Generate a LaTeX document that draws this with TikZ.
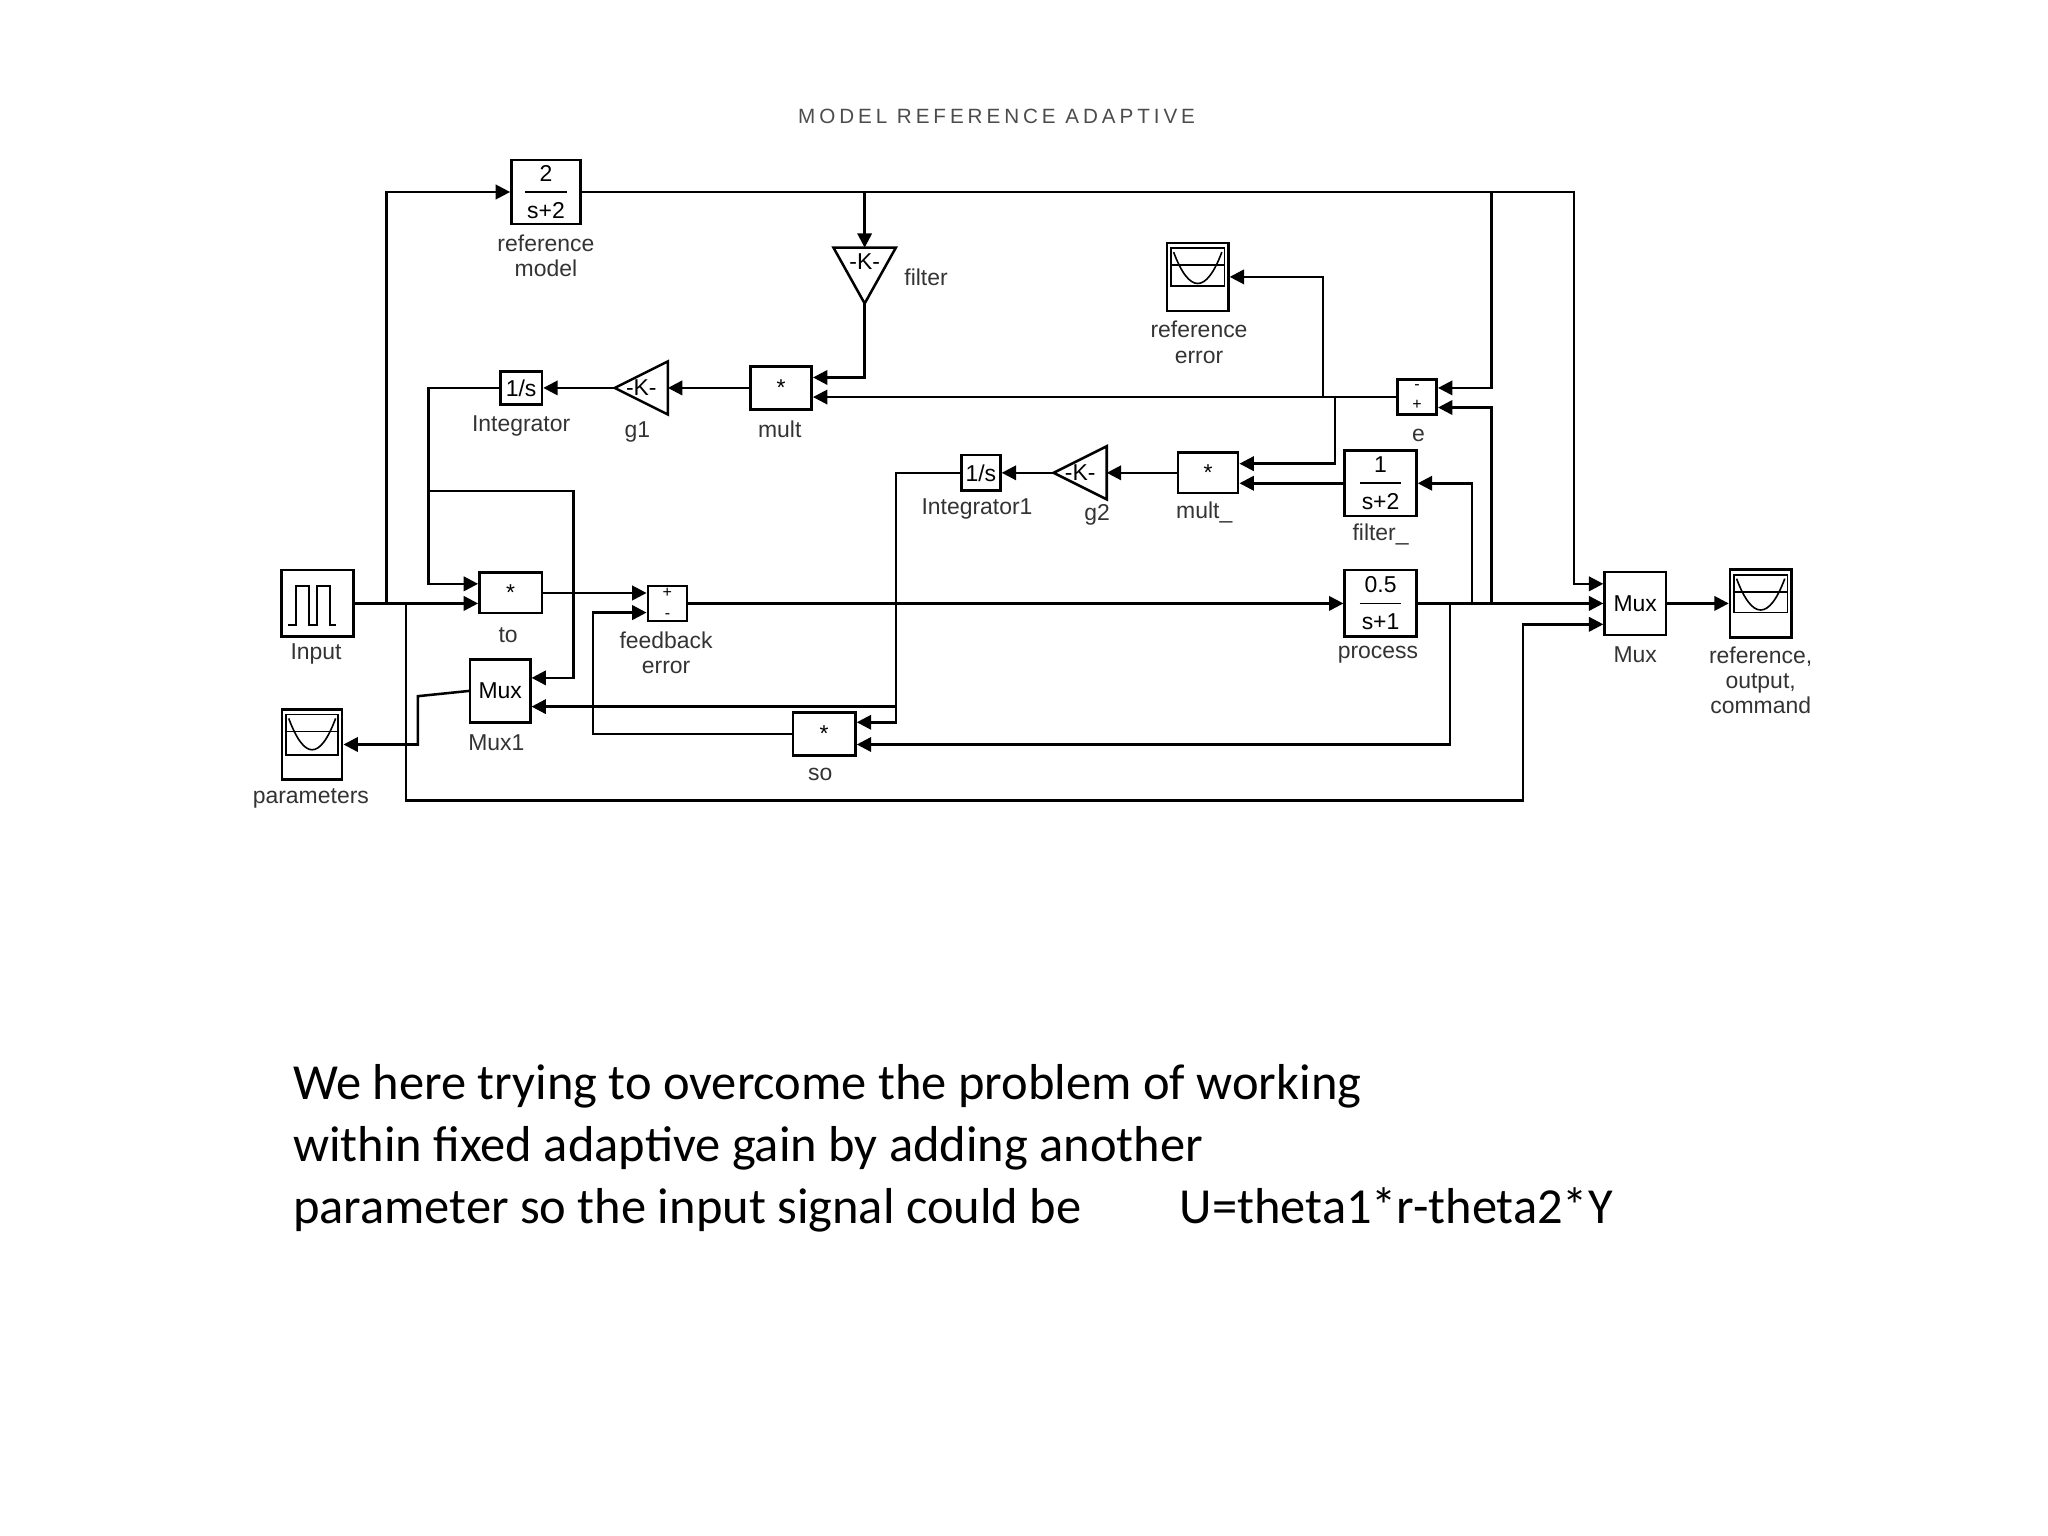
\documentclass[tikz,border=0pt]{standalone}
\usepackage{fontspec}
\setmainfont{Liberation Sans}
\newfontfamily\bodyfont{Carlito}
\newfontfamily\titlefont[LetterSpace=19]{Liberation Sans}
\usetikzlibrary{arrows.meta,calc}
\newcommand{\lbl}{\fontsize{10}{11}\selectfont}
% scope and pulse icons drawn inside a block
\newcommand{\scopeglyph}[1]{%
  \draw[line width=0.7pt] ([shift={(4,5)}]#1.north west) rectangle ([shift={(-4,-20)}]#1.south east);
  \draw[line width=0.7pt] ([shift={(4,18)}]#1.north west) -- ([shift={(-4,18)}]#1.north east);
  \draw[line width=0.7pt] ([shift={(6,8)}]#1.north west) .. controls ([shift={(18,40)}]#1.north west) and ([shift={(-18,40)}]#1.north east) .. ([shift={(-6,8)}]#1.north east);}
\newcommand{\pulseglyph}[1]{%
  \draw[line width=0.8pt] ([shift={(6,-10)}]#1.south west) -- ++(6,0) -- ++(0,-30) -- ++(10,0) -- ++(0,30) -- ++(6,0) -- ++(0,-30) -- ++(10,0) -- ++(0,30) -- ++(5,0);}
\begin{document}
\begin{tikzpicture}[x=0.02cm, y=-0.02cm,
    blk/.style={draw, line width=1.1pt, inner sep=0pt, font=\lbl, align=center},
    gain/.style={inner sep=0pt, minimum width=0.8cm, minimum height=0.8cm, font=\lbl},
    sumblk/.style={blk, minimum width=0.6cm, minimum height=0.54cm, font=\fontsize{7}{6}\selectfont},
    blabel/.style={font=\lbl, align=center, inner sep=0pt, text=black!80},
    sig/.style={line width=1.1pt, -{Triangle[length=0.22cm, width=0.22cm]}}]
    \useasboundingbox (0,0) rectangle (1568,1176);

    % title
    \node[font=\titlefont\fontsize{9}{10}\selectfont, text=black!70] (title) at (763,89) {MODEL REFERENCE ADAPTIVE};

    % blocks
    \node[blk, minimum width=1.06cm, minimum height=0.98cm] (rm) at (418,147) {2\\[5pt]s+2};
    \draw[line width=0.7pt] ($(rm.center)+(-16,0)$) -- ($(rm.center)+(16,0)$);
    \node[blk, minimum width=1.1cm, minimum height=1.02cm] (inp) at (243,462) {};
    \pulseglyph{inp}
    \node[blk, minimum width=0.92cm, minimum height=1.08cm] (par) at (239,570) {};
    \scopeglyph{par}
    \node[blk, minimum width=0.96cm, minimum height=0.62cm] (to) at (391,454) {*};
    \node[sumblk] (fe) at (511,462) {+\\[3pt]-};
    \node[blk, minimum width=1.1cm, minimum height=1.02cm] (proc) at (1057,462) {0.5\\[5pt]s+1};
    \draw[line width=0.7pt] ($(proc.center)+(-16,0)$) -- ($(proc.center)+(16,0)$);
    \node[blk, minimum width=0.64cm, minimum height=0.5cm] (int) at (399,297) {1/s};
    \node[gain] (g1) at (491,297) {-K-};
    \draw[line width=1.1pt] (g1.north east) -- (g1.west) -- (g1.south east) -- cycle;
    \node[blk, minimum width=0.94cm, minimum height=0.66cm] (mult) at (598,297) {*};
    \node[gain, minimum width=0.94cm, minimum height=0.84cm] (filt) at (662,211) {};
    \draw[line width=1.1pt] (filt.north west) -- (filt.south) -- (filt.north east) -- cycle;
    \node[font=\lbl, inner sep=0pt] (filtk) at (662,200) {-K-};
    \node[blk, minimum width=0.94cm, minimum height=1.04cm] (rerr) at (917,212) {};
    \scopeglyph{rerr}
    \node[sumblk] (e) at (1085,304) {-\\[3pt]+};
    \node[blk, minimum width=0.6cm, minimum height=0.54cm] (int1) at (751,362) {1/s};
    \node[gain] (g2) at (827,362) {-K-};
    \draw[line width=1.1pt] (g2.north east) -- (g2.west) -- (g2.south east) -- cycle;
    \node[blk, minimum width=0.92cm, minimum height=0.62cm] (mult2) at (925,362) {*};
    \node[blk, minimum width=1.1cm, minimum height=1cm] (fil2) at (1057,370) {1\\[5pt]s+2};
    \draw[line width=0.7pt] ($(fil2.center)+(-16,0)$) -- ($(fil2.center)+(16,0)$);
    \node[blk, minimum width=0.96cm, minimum height=0.66cm] (so) at (631,562) {*};
    \node[blk, minimum width=0.92cm, minimum height=0.96cm] (mux1) at (383,529) {Mux};
    \node[blk, minimum width=0.94cm, minimum height=0.96cm] (mux) at (1252,462) {Mux};
    \node[blk, minimum width=0.94cm, minimum height=1.04cm] (sc) at (1348,462) {};
    \scopeglyph{sc}

    % captions
    \node[blabel] (lrm) at (418,196) {reference\\model};
    \node[blabel] (linp) at (242,501) {Input};
    \node[blabel] (lpar) at (238,611) {parameters};
    \node[blabel] (lto) at (389,486) {to};
    \node[blabel] (lfe) at (510,500) {feedback\\error};
    \node[blabel] (lproc) at (1055,501) {process};
    \node[blabel] (lint) at (399,326) {Integrator};
    \node[blabel] (lg1) at (488,331) {g1};
    \node[blabel] (lmult) at (597,329) {mult};
    \node[blabel] (lfilt) at (709,212) {filter};
    \node[blabel] (lrerr) at (918,262) {reference\\error};
    \node[blabel] (le) at (1086,333) {e};
    \node[blabel] (lint1) at (748,390) {Integrator1};
    \node[blabel] (lg2) at (840,394) {g2};
    \node[blabel] (lmult2) at (922,392) {mult\_};
    \node[blabel] (lfil2) at (1057,409) {filter\_};
    \node[blabel] (lso) at (628,593) {so};
    \node[blabel] (lmux1) at (380,569) {Mux1};
    \node[blabel] (lmux) at (1252,501) {Mux};
    \node[blabel] (lsc) at (1348,521) {reference,\\output,\\command};

    % branch points
    \coordinate (b1) at (296,462);
    \coordinate (b2) at (311,462);
    \coordinate (b3) at (328,376);
    \coordinate (b4) at (1110,462);
    \coordinate (b5) at (1127,462);
    \coordinate (b6) at (1142,462);
    \coordinate (b7) at (662,147);
    \coordinate (b8) at (1142,147);
    \coordinate (b9) at (1013,304);
    \coordinate (b10) at (1022,304);
    \coordinate (b11) at (686,541);

    % connectors
    \draw[sig] (inp.east) -- (to.west |- inp.east);
    \draw[sig] (b1) |- (rm.west);
    \draw[sig] (b2) -- (311,613) -- (1166,613) -- (1166,478) -- (mux.west |- 1166,478);
    \draw[sig] (int.west) -| (328,447) -- (to.west |- 328,447);
    \draw[sig] (b3) -- (439,376) -- (439,519) -- (mux1.east |- 439,519);
    \draw[sig] (to.east) -- (fe.west |- to.east);
    \draw[sig] (fe.east) -- (proc.west);
    \draw[sig] (proc.east) -- (mux.west |- proc.east);
    \draw[sig] (b4) -- (1110,570) -- (so.east |- 1110,570);
    \draw[sig] (b5) |- (fil2.east);
    \draw[sig] (b6) -- (1142,312) -- (e.east |- 1142,312);
    \draw[sig] (rm.east) -- (1205,147) -- (1205,447) -- (mux.west |- 1205,447);
    \draw[sig] (b7) -- (filt.north);
    \draw[sig] (b8) -- (1142,297) -- (e.east |- 1142,297);
    \draw[sig] (filt.south) -- (662,289) -- (mult.east |- 662,289);
    \draw[sig] (e.west) -- (mult.east |- e.west);
    \draw[sig] (b9) |- (rerr.east);
    \draw[sig] (b10) -- (1022,355) -- (mult2.east |- 1022,355);
    \draw[sig] (fil2.west) -- (mult2.east |- fil2.west);
    \draw[sig] (mult.west) -- (g1.east);
    \draw[sig] (g1.west) -- (int.east);
    \draw[sig] (mult2.west) -- (g2.east);
    \draw[sig] (g2.west) -- (int1.east);
    \draw[sig] (int1.west) -- (686,362) -- (686,553) -- (so.east |- 686,553);
    \draw[sig] (b11) -- (mux1.east |- b11);
    \draw[sig] (so.west) -- (454,562) -- (454,469) -- (fe.west |- 454,469);
    \draw[sig] (mux1.west) -- (320,533) -- (320,570) -- (par.east);
    \draw[sig] (mux.east) -- (sc.west);

    % text below
    \node[font=\bodyfont\fontsize{22}{26}\selectfont, anchor=base west, inner sep=0pt] (t1) at (224,842) {We here trying to overcome the problem of working};
    \node[font=\bodyfont\fontsize{22}{26}\selectfont, anchor=base west, inner sep=0pt] (t2) at (224,889) {within fixed adaptive gain by adding another};
    \node[font=\bodyfont\fontsize{22}{26}\selectfont, anchor=base west, inner sep=0pt] (t3) at (224,937) {parameter so the input signal could be};
    \node[font=\bodyfont\fontsize{22}{26}\selectfont, anchor=base west, inner sep=0pt] (t4) at (903,937) {U=theta1*r-theta2*Y};
\end{tikzpicture}
\end{document}
